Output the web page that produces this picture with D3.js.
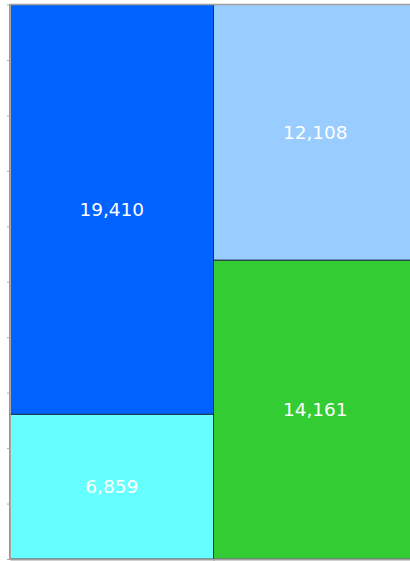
<!DOCTYPE html>
<html>
<head>
<meta charset="utf-8">
<script src="https://cdn.jsdelivr.net/npm/d3@7"></script>
<style>
  html, body { margin: 0; padding: 0; background: #fff; }
  svg { display: block; }
</style>
</head>
<body>
<svg id="chart" width="410" height="561"></svg>
<script>
const columns = ["Column 1", "Column 2"];
const bottomValues = [6859, 14161];
const topValues = [19410, 12108];
const yTicks = [0, 0.1, 0.2, 0.3, 0.4, 0.5, 0.6, 0.7, 0.8, 0.9, 1];

const bottomColors = ["#66FFFF", "#33CC33"];
const topColors = ["#0062FF", "#99CCFF"];

const svg = d3.select("#chart");
const x = d3.scaleBand().domain(columns).range([10, 417]).padding(0);
const y = d3.scaleLinear().domain([0, 1]).range([559, 4.5]);

const cells = [];
columns.forEach((c, i) => {
  const total = bottomValues[i] + topValues[i];
  cells.push({col: c, v: bottomValues[i], y0: 0, y1: bottomValues[i] / total, color: bottomColors[i]});
  cells.push({col: c, v: topValues[i], y0: bottomValues[i] / total, y1: 1, color: topColors[i]});
});

const fmt = d3.format(",");

svg.selectAll("rect.cell").data(cells).join("rect")
  .attr("class", "cell")
  .attr("x", d => x(d.col))
  .attr("width", x.bandwidth())
  .attr("y", d => y(d.y1))
  .attr("height", d => y(d.y0) - y(d.y1))
  .attr("fill", d => d.color)
  .attr("stroke", "#1c2f44")
  .attr("stroke-width", 1);

svg.selectAll("text.lbl").data(cells).join("text")
  .attr("class", "lbl")
  .attr("x", d => x(d.col) + x.bandwidth() / 2)
  .attr("y", d => (y(d.y0) + y(d.y1)) / 2)
  .attr("dy", "0.35em")
  .attr("text-anchor", "middle")
  .attr("fill", "#ffffff")
  .attr("font-family", "'DejaVu Sans', Verdana, sans-serif")
  .attr("font-size", 18.5)
  .text(d => fmt(d.v));

// top border
svg.append("line")
  .attr("x1", 10).attr("x2", 417)
  .attr("y1", y(1)).attr("y2", y(1))
  .attr("stroke", "#a0a0a0").attr("stroke-width", 1.5);

// left axis
const yAxis = d3.axisLeft(y).tickValues(yTicks).tickFormat("").tickSizeInner(3).tickSizeOuter(0);
const gy = svg.append("g").attr("transform", "translate(10,0)").call(yAxis);
gy.select(".domain").attr("stroke", "#a8a8a8");
gy.selectAll(".tick line").attr("stroke", "#a8a8a8");

// bottom axis
const xEdges = d3.scaleLinear().domain([0, columns.length]).range(x.range());
const xAxis = d3.axisBottom(xEdges).tickValues([1]).tickFormat("").tickSizeInner(2).tickSizeOuter(0);
const gx = svg.append("g").attr("transform", "translate(0,559)").call(xAxis);
gx.select(".domain").attr("stroke", "#a0a0a0").attr("stroke-width", 2);
gx.selectAll(".tick line").attr("stroke", "#a0a0a0");
</script>
</body>
</html>
